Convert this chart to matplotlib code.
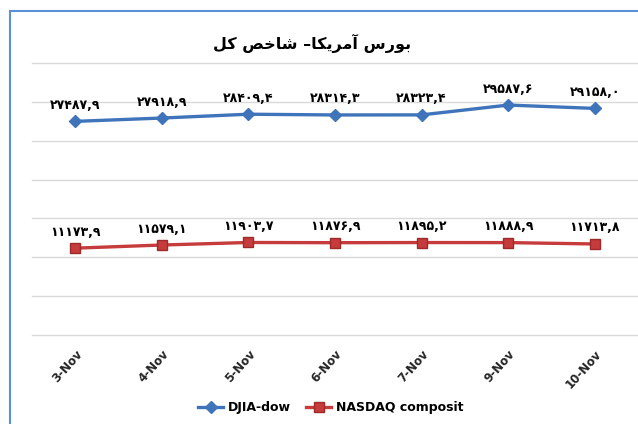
import matplotlib.pyplot as plt
from matplotlib.patches import Rectangle

plt.rcParams['font.family'] = ['DejaVu Sans']

dates = ['3-Nov', '4-Nov', '5-Nov', '6-Nov', '7-Nov', '9-Nov', '10-Nov']
djia = [27487.9, 27918.9, 28409.4, 28314.3, 28323.4, 29587.6, 29158.0]
nasdaq = [11173.9, 11579.1, 11903.7, 11876.9, 11895.2, 11888.9, 11713.8]

# title "بورس آمریکا– شاخص کل" in visual order (presentation forms, no shaping in mpl)
TITLE = '\uFEDE\uFB90 \uFEBA\uFEA7\uFE8E\uFEB7 \u2013\uFE8E\uFB91\uFBFE\uFEAE\uFEE3\uFE81 \uFEB1\uFEAD\uFEEE\uFE91'

FA_DIGITS = str.maketrans('0123456789.', '۰۱۲۳۴۵۶۷۸۹,')


def fa(v):
    return f'{v:.1f}'.translate(FA_DIGITS)


BLUE = '#3F74BA'
RED = '#C63B3B'

fig = plt.figure(figsize=(6.38, 4.24), dpi=100, facecolor='white')
ax = fig.add_axes([32 / 638, 89 / 424, 606 / 638, 272 / 424])

x = range(len(dates))
ax.plot(x, djia, color=BLUE, lw=2.4, marker='D', ms=6, mfc=BLUE, mec=BLUE,
        label='DJIA-dow', zorder=3)
ax.plot(x, nasdaq, color=RED, lw=2.4, marker='s', ms=7, mfc=RED, mec='#9E2A2A',
        label='NASDAQ composit', zorder=3)

for series in (djia, nasdaq):
    for xi, v in zip(x, series):
        ax.annotate(fa(v), (xi, v), xytext=(0, 11.5), textcoords='offset points',
                    ha='center', va='center', fontsize=9, fontweight='bold')

ax.set_xlim(-0.5, 6.5)
ax.set_ylim(0, 35000)
ax.set_yticks(range(0, 35001, 5000))
ax.set_yticklabels([])
ax.grid(axis='y', color='#D9D9D9', lw=1.0)
for gl in ax.get_ygridlines():
    gl.set_clip_on(False)
ax.set_axisbelow(True)
ax.tick_params(length=0)
for s in ax.spines.values():
    s.set_visible(False)
ax.set_xticks(list(x))
ax.set_xticklabels(dates, rotation=48, ha='right', va='top', rotation_mode='anchor',
                   fontsize=8.5, fontweight='bold', color='#262626')
ax.tick_params(axis='x', pad=9)

fig.text(312 / 638, 1 - 43 / 424, TITLE, ha='center', va='center',
         fontsize=11.5, fontweight='bold')

ax.legend(loc='center', bbox_to_anchor=(331 / 638, 16 / 424),
          bbox_transform=fig.transFigure, ncol=2, frameon=False,
          prop={'size': 9, 'weight': 'bold'}, handlelength=2.0,
          columnspacing=1.2, handletextpad=0.4)

fig.add_artist(Rectangle((10 / 638, -0.1), 1.2, 1.1 - 11 / 424,
                         transform=fig.transFigure, fill=False,
                         edgecolor='#5B8FD6', lw=1.5))

fig.savefig('out.png', dpi=100, facecolor='white')
